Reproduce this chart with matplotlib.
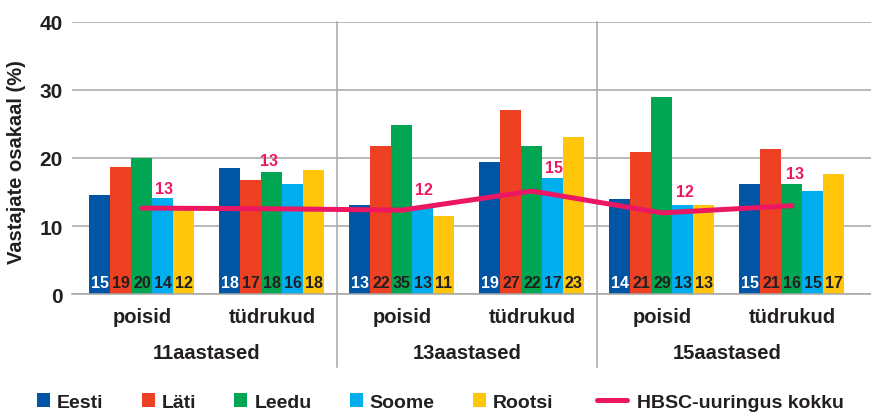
import numpy as np
import matplotlib
matplotlib.use("Agg")
import matplotlib.pyplot as plt
import matplotlib.transforms as mtransforms
from matplotlib.patches import Patch
from matplotlib.lines import Line2D

plt.rcParams['font.family'] = ['Liberation Sans', 'DejaVu Sans']
plt.rcParams['font.weight'] = 'bold'

# andmed
riigid = ['Eesti', 'Läti', 'Leedu', 'Soome', 'Rootsi']
alarühmad = ['poisid', 'tüdrukud', 'poisid', 'tüdrukud', 'poisid', 'tüdrukud']
vanused = ['11aastased', '13aastased', '15aastased']

eesti = [14.6, 18.6, 13.1, 19.4, 14.0, 16.2]
lati = [18.7, 16.8, 21.7, 27.0, 20.9, 21.3]
leedu = [20.0, 17.9, 24.8, 21.7, 28.9, 16.2]
soome = [14.1, 16.2, 13.0, 17.1, 13.1, 15.2]
rootsi = [12.4, 18.2, 11.5, 23.1, 13.1, 17.6]

# numbrid tulpade all, nagu trükitud
eesti_sildid = ['15', '18', '13', '19', '14', '15']
lati_sildid = ['19', '17', '22', '27', '21', '21']
leedu_sildid = ['20', '18', '35', '22', '29', '16']
soome_sildid = ['14', '16', '13', '17', '13', '15']
rootsi_sildid = ['12', '18', '11', '23', '13', '17']

hbsc = [12.65, 12.55, 12.35, 15.15, 11.95, 13.0]

varvid = ['#0055A5', '#EE4123', '#00A651', '#00AEEF', '#FFC60B']
roosa = '#EC1763'
tekst = '#231F20'
hall = '#A6A6A6'

fig = plt.figure(figsize=(8.71, 4.14), dpi=100)
ax = fig.add_axes([72 / 871, (414 - 295.3) / 414, 799 / 871, 272.6 / 414])

x = np.arange(len(alarühmad))
laius = 0.1615
seeriad = [eesti, lati, leedu, soome, rootsi]
sildid = [eesti_sildid, lati_sildid, leedu_sildid, soome_sildid, rootsi_sildid]

for i, (vaartused, silt, varv) in enumerate(zip(seeriad, sildid, varvid)):
    pos = x + (i - 2) * laius
    ax.bar(pos, vaartused, width=laius, color=varv, zorder=2)
    tcol = 'white' if i == 0 else tekst
    for px, s in zip(pos, silt):
        ax.text(px, 1.7, s, ha='center', va='center', fontsize=11.5,
                color=tcol, zorder=4)

ax.plot(x, hbsc, color=roosa, lw=3.6, solid_capstyle='round',
        solid_joinstyle='round', zorder=3)

# HBSC väärtuste asukohad (nihe pikslites punktist)
nihked = [(22, 20), (-3, 48), (22, 21), (22, 24), (23, 21), (3, 32)]
for xi, v, (dx, dy) in zip(x, hbsc, nihked):
    ax.annotate(f"{v:.0f}", (xi, v), xytext=(dx * 0.72, dy * 0.72),
                textcoords='offset points', ha='center', va='center',
                fontsize=11.5, color=roosa, zorder=4)

ax.set_xlim(-0.538, -0.538 + 799 / 130)
ax.set_ylim(0, 40)
ax.set_yticks([0, 10, 20, 30, 40])
ax.tick_params(axis='y', length=0, pad=6.5, labelsize=15, labelcolor=tekst)
ax.set_xticks([])
ax.yaxis.grid(True, color=hall, lw=1.1, zorder=0)
ax.set_axisbelow(True)
for side in ['left', 'right', 'top']:
    ax.spines[side].set_visible(False)
ax.spines['bottom'].set_color(hall)
ax.spines['bottom'].set_linewidth(1.1)

trans = mtransforms.blended_transform_factory(ax.transData, ax.transAxes)
for sx in [1.5, 3.5]:
    ax.plot([sx, sx], [1, -0.267], color=hall, lw=1.1, transform=trans,
            clip_on=False, zorder=1)

for xi, nimi in zip(x, alarühmad):
    ax.text(xi, -0.083, nimi, transform=trans, ha='center', va='center',
            fontsize=14.5, color=tekst)
for k, nimi in enumerate(vanused):
    ax.text(2 * k + 0.5, -0.212, nimi, transform=trans, ha='center',
            va='center', fontsize=14.5, color=tekst)

fig.text(17 / 871, 1 - 162 / 414, 'Vastajate osakaal (%)', rotation=90,
         ha='center', va='center', fontsize=14.5, color=tekst)

kastid = [Patch(facecolor=c, edgecolor='none') for c in varvid]
leg1 = fig.legend(kastid, riigid, loc='center left',
                  bbox_to_anchor=(37 / 871, 11 / 414), ncol=5, frameon=False,
                  fontsize=14, handlelength=0.67, handleheight=0.67,
                  handletextpad=0.36, columnspacing=1.96, borderpad=0,
                  borderaxespad=0)
for t in leg1.get_texts():
    t.set_color(tekst)

joon = [Line2D([0], [0], color=roosa, lw=3.6, solid_capstyle='round')]
leg2 = fig.legend(joon, ['HBSC-uuringus kokku'], loc='center left',
                  bbox_to_anchor=(597 / 871, 11 / 414), frameon=False,
                  fontsize=14, handlelength=1.55, handletextpad=0.5,
                  borderpad=0, borderaxespad=0)
for t in leg2.get_texts():
    t.set_color(tekst)

fig.savefig('out.png', dpi=100)
